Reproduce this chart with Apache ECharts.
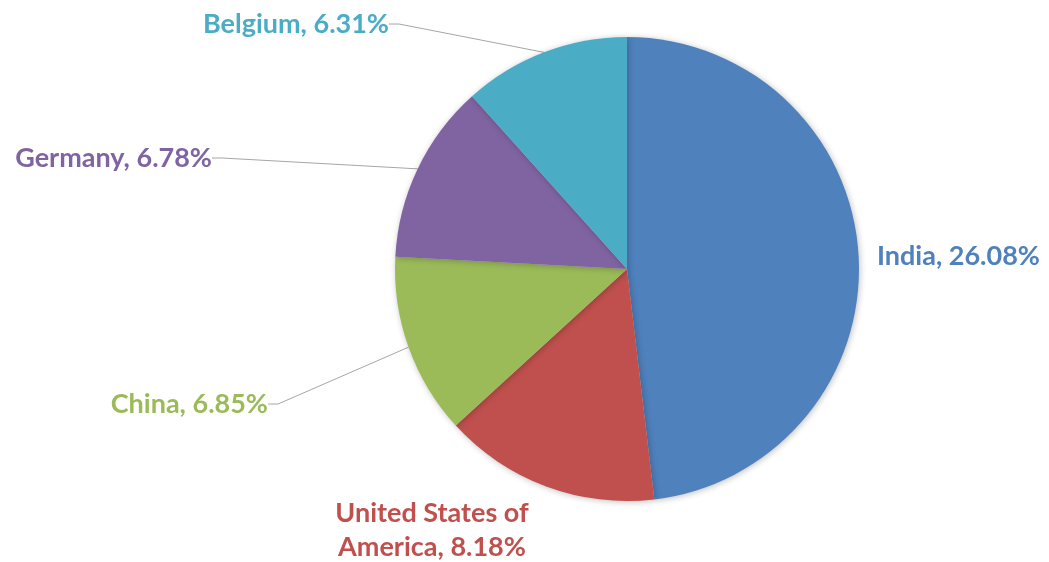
<!DOCTYPE html>
<html>
<head>
<meta charset="utf-8">
<script src="https://cdn.jsdelivr.net/npm/echarts@6/dist/echarts.min.js"></script>
<style>
  html, body { margin: 0; padding: 0; background: #fff; }
  #chart { width: 1049px; height: 562px; }
</style>
</head>
<body>
<div id="chart"></div>
<script>
// 数据
const countries = ['India', 'United States of America', 'China', 'Germany', 'Belgium'];
const shares = [26.08, 8.18, 6.85, 6.78, 6.31];
const colors = ['#4F81BD', '#C0504D', '#9BBB59', '#8064A2', '#4BACC6'];

// label placement (x, y, align) per slice
const labelSpots = [
  { x: 877, y: 256, align: 'left' },
  { x: 432, y: 530, align: 'center' },
  { x: 268, y: 404, align: 'right' },
  { x: 212, y: 158, align: 'right' },
  { x: 389, y: 24, align: 'right' }
];

const chart = echarts.init(document.getElementById('chart'));

chart.setOption({
  animation: false,
  series: [
    {
      type: 'pie',
      center: [627, 269],
      radius: 232,
      startAngle: 90,
      clockwise: true,
      data: countries.map((name, i) => ({
        name: name,
        value: shares[i],
        itemStyle: { color: colors[i] },
        label: { color: colors[i] },
        labelLine: { show: i >= 2 }
      })),
      itemStyle: {
        shadowBlur: 6,
        shadowColor: 'rgba(0,0,0,0.25)',
        shadowOffsetX: 1,
        shadowOffsetY: 1
      },
      label: {
        show: true,
        position: 'outside',
        overflow: 'none',
        edgeDistance: 0,
        fontFamily: 'Lato',
        fontWeight: 'bold',
        fontSize: 27,
        lineHeight: 34,
        formatter: p => p.name.replace('of America', 'of\nAmerica') + ', ' + p.value.toFixed(2) + '%'
      },
      labelLine: {
        show: true,
        length: 10,
        length2: 10,
        lineStyle: { color: '#A6A6A6', width: 1 }
      },
      labelLayout: params => {
        const s = labelSpots[params.dataIndex];
        return { x: s.x, y: s.y, align: s.align, verticalAlign: 'middle' };
      }
    }
  ]
});
</script>
</body>
</html>
